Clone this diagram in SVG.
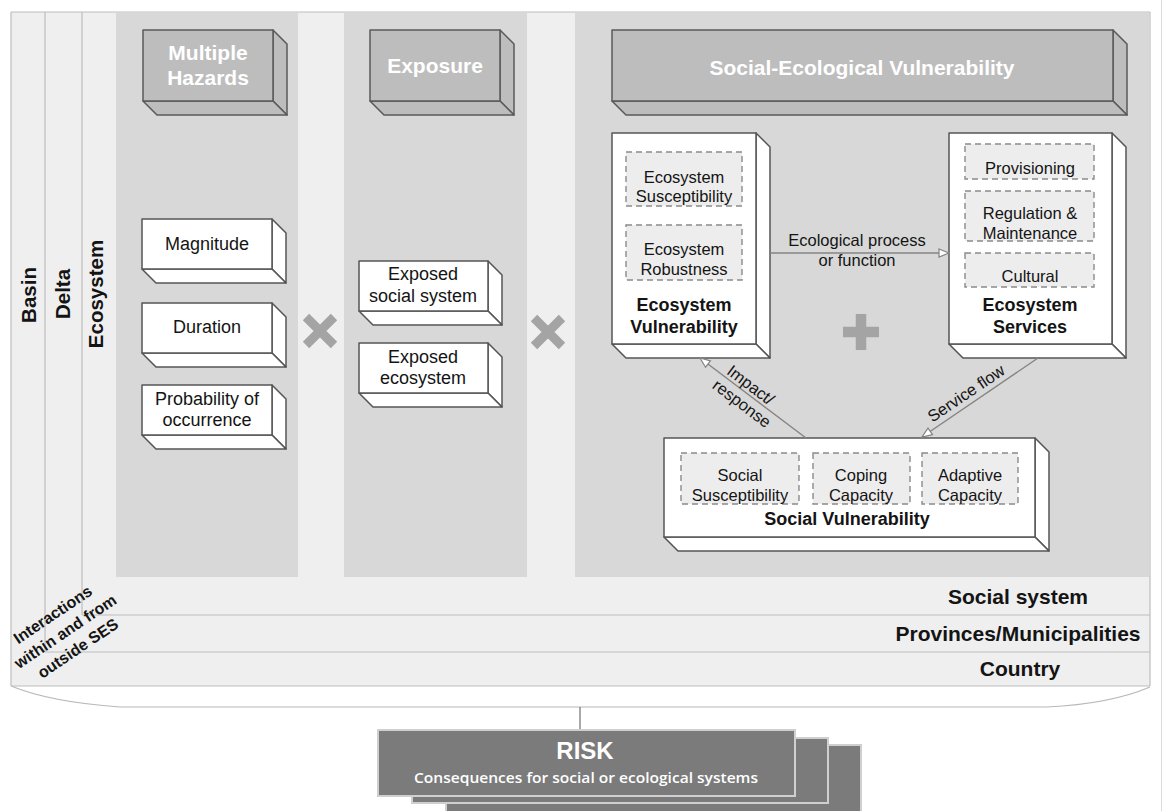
<svg xmlns="http://www.w3.org/2000/svg" width="1163" height="811" viewBox="0 0 1163 811">
  <style>
    .t { font-family: "Liberation Sans", Arial, sans-serif; fill: #141414; }
    .b { font-weight: bold; }
    .reg { font-size: 18px; }
    .small { font-size: 16.5px; }
    .bold18 { font-size: 18px; font-weight: bold; }
    .hdr { font-family: "Liberation Sans", Arial, sans-serif; font-weight: bold; font-size: 21px; fill: #ffffff; }
    .lvl { font-family: "Liberation Sans", Arial, sans-serif; font-weight: bold; font-size: 20.5px; fill: #141414; }
    .scale { font-family: "Liberation Sans", Arial, sans-serif; font-weight: bold; font-size: 21px; fill: #141414; }
    .panel { fill: #d8d8d8; }
    .strip { fill: #efefef; }
    .rule { stroke: #bdbdbd; stroke-width: 1.2; fill: none; }
    .box { fill: #ffffff; stroke: #555555; stroke-width: 1.5; stroke-linejoin: round; }
    .hbox { fill: #bdbdbd; stroke: #5a5a5a; stroke-width: 1.5; stroke-linejoin: round; }
    .dash { fill: #ededed; stroke: #8a8a8a; stroke-width: 1.4; stroke-dasharray: 6 4; }
    .conn { stroke: #848484; stroke-width: 1.4; fill: none; }
    .op { stroke: #a4a4a4; stroke-width: 9; fill: none; }
    .risk { fill: #7b7b7b; stroke: #cfcfcf; stroke-width: 2; }
  </style>
  <defs>
    <marker id="hollow" viewBox="0 0 12 10" refX="11" refY="5" markerWidth="12" markerHeight="10" markerUnits="userSpaceOnUse" orient="auto">
      <path d="M1,1 L11,5 L1,9 Z" fill="#ffffff" stroke="#848484" stroke-width="1.2"/>
    </marker>
  </defs>

  <rect width="1163" height="811" fill="#ffffff"/>

  <!-- nested scale frames: Basin / Delta / Ecosystem -->
  <g id="frame">
    <rect class="strip" x="11" y="12" width="1139" height="674"/>
    <path d="M11,686 Q50,702 120,707 L1047,707 Q1110,704 1150,687" fill="none" stroke="#b8b8b8" stroke-width="1.2"/>
    <line x1="1161.5" y1="0" x2="1161.5" y2="811" stroke="#dcdcdc" stroke-width="1"/>
    <line class="rule" x1="11" y1="12" x2="1150" y2="12"/>
    <line class="rule" x1="11" y1="12" x2="11" y2="686"/>
    <line class="rule" x1="11" y1="686" x2="1150" y2="686"/>
    <line class="rule" x1="1150" y1="12" x2="1150" y2="686"/>
    <line class="rule" x1="45" y1="12" x2="45" y2="652"/>
    <line class="rule" x1="45" y1="652" x2="1150" y2="652"/>
    <line class="rule" x1="82" y1="12" x2="82" y2="615"/>
    <line class="rule" x1="82" y1="615" x2="1150" y2="615"/>
  </g>

  <!-- column panels -->
  <g id="panels">
    <rect class="panel" x="116" y="13" width="182" height="564"/>
    <rect class="panel" x="344" y="13" width="183" height="564"/>
    <rect class="panel" x="575" y="13" width="574.5" height="564"/>
  </g>

  <g id="level-labels">
    <text class="lvl" transform="translate(36,295) rotate(-90)" text-anchor="middle">Basin</text>
    <text class="lvl" transform="translate(70,294) rotate(-90)" text-anchor="middle">Delta</text>
    <text class="lvl" transform="translate(103,294) rotate(-90)" text-anchor="middle">Ecosystem</text>
    <text class="scale" x="1018" y="604" text-anchor="middle">Social system</text>
    <text class="scale" x="1018" y="641" text-anchor="middle">Provinces/Municipalities</text>
    <text class="scale" x="1020" y="676" text-anchor="middle">Country</text>
    <g transform="translate(65,631) rotate(-34)" font-family="Liberation Sans, Arial, sans-serif" font-weight="bold" font-size="16px" fill="#141414" text-anchor="middle">
      <text x="-1" y="-15">Interactions</text>
      <text x="0" y="6">within and from</text>
      <text x="1" y="27">outside SES</text>
    </g>
  </g>

  <!-- header boxes -->
  <g id="hazards-header">
    <path class="hbox" d="M273,30 L287,44 L287,115 L273,101 Z"/>
    <path class="hbox" d="M143,101 L273,101 L287,115 L157,115 Z"/>
    <rect class="hbox" x="143" y="30" width="130" height="71"/>
    <text class="hdr" x="208" y="60" text-anchor="middle">Multiple</text>
    <text class="hdr" x="208" y="85" text-anchor="middle">Hazards</text>
  </g>
  <g id="exposure-header">
    <path class="hbox" d="M500,30 L514,44 L514,115 L500,101 Z"/>
    <path class="hbox" d="M370,101 L500,101 L514,115 L384,115 Z"/>
    <rect class="hbox" x="370" y="30" width="130" height="71"/>
    <text class="hdr" x="435" y="73" text-anchor="middle">Exposure</text>
  </g>
  <g id="sev-header">
    <path class="hbox" d="M1113,30 L1127,44 L1127,115 L1113,101 Z"/>
    <path class="hbox" d="M612,101 L1113,101 L1127,115 L626,115 Z"/>
    <rect class="hbox" x="612" y="30" width="501" height="71"/>
    <text class="hdr" x="862" y="75" text-anchor="middle">Social-Ecological Vulnerability</text>
  </g>

  <!-- hazard characteristics -->
  <g id="magnitude">
    <path class="box" d="M272,219 L286,233 L286,283 L272,269 Z"/>
    <path class="box" d="M142,269 L272,269 L286,283 L156,283 Z"/>
    <rect class="box" x="142" y="219" width="130" height="50"/>
    <text class="t reg" x="207" y="250" text-anchor="middle">Magnitude</text>
  </g>
  <g id="duration">
    <path class="box" d="M272,303 L286,317 L286,367 L272,353 Z"/>
    <path class="box" d="M142,353 L272,353 L286,367 L156,367 Z"/>
    <rect class="box" x="142" y="303" width="130" height="50"/>
    <text class="t reg" x="207" y="333" text-anchor="middle">Duration</text>
  </g>
  <g id="probability">
    <path class="box" d="M272,385 L286,399 L286,449 L272,435 Z"/>
    <path class="box" d="M142,435 L272,435 L286,449 L156,449 Z"/>
    <rect class="box" x="142" y="385" width="130" height="50"/>
    <text class="t reg" x="207" y="405" text-anchor="middle">Probability of</text>
    <text class="t reg" x="207" y="426" text-anchor="middle">occurrence</text>
  </g>

  <!-- exposure elements -->
  <g id="exposed-social">
    <path class="box" d="M488,261 L502,275 L502,325 L488,311 Z"/>
    <path class="box" d="M359,311 L488,311 L502,325 L373,325 Z"/>
    <rect class="box" x="359" y="261" width="129" height="50"/>
    <text class="t reg" x="423" y="280" text-anchor="middle">Exposed</text>
    <text class="t reg" x="423" y="302" text-anchor="middle">social system</text>
  </g>
  <g id="exposed-ecosystem">
    <path class="box" d="M488,343 L502,357 L502,407 L488,393 Z"/>
    <path class="box" d="M359,393 L488,393 L502,407 L373,407 Z"/>
    <rect class="box" x="359" y="343" width="129" height="50"/>
    <text class="t reg" x="423" y="363" text-anchor="middle">Exposed</text>
    <text class="t reg" x="423" y="384" text-anchor="middle">ecosystem</text>
  </g>

  <!-- combining operators -->
  <g id="operators">
    <path class="op" d="M306,317 L334,345 M334,317 L306,345"/>
    <path class="op" d="M534,318 L562,346 M562,318 L534,346"/>
    <path d="M843,332 L879,332 M861,314 L861,350" stroke="#a4a4a4" stroke-width="10.5" fill="none"/>
  </g>

  <!-- ecosystem vulnerability -->
  <g id="ecosystem-vulnerability">
    <path class="box" d="M756,133 L770,147 L770,358 L756,344 Z"/>
    <path class="box" d="M612,344 L756,344 L770,358 L626,358 Z"/>
    <rect class="box" x="612" y="133" width="144" height="211"/>
    <rect class="dash" x="626" y="152" width="116" height="54"/>
    <rect class="dash" x="626" y="225" width="116" height="55"/>
    <text class="t small" x="684" y="183" text-anchor="middle">Ecosystem</text>
    <text class="t small" x="684" y="202" text-anchor="middle">Susceptibility</text>
    <text class="t small" x="684" y="255" text-anchor="middle">Ecosystem</text>
    <text class="t small" x="684" y="275" text-anchor="middle">Robustness</text>
    <text class="t bold18" x="684" y="311" text-anchor="middle">Ecosystem</text>
    <text class="t bold18" x="684" y="333" text-anchor="middle">Vulnerability</text>
  </g>

  <!-- ecosystem services -->
  <g id="ecosystem-services">
    <path class="box" d="M1112,133 L1126,147 L1126,358 L1112,344 Z"/>
    <path class="box" d="M949,344 L1112,344 L1126,358 L963,358 Z"/>
    <rect class="box" x="949" y="133" width="163" height="211"/>
    <rect class="dash" x="965" y="144" width="129" height="35"/>
    <rect class="dash" x="965" y="191" width="129" height="50"/>
    <rect class="dash" x="965" y="253" width="129" height="34"/>
    <text class="t small" x="1030" y="174" text-anchor="middle">Provisioning</text>
    <text class="t small" x="1030" y="219" text-anchor="middle">Regulation &amp;</text>
    <text class="t small" x="1030" y="239" text-anchor="middle">Maintenance</text>
    <text class="t small" x="1030" y="282" text-anchor="middle">Cultural</text>
    <text class="t bold18" x="1030" y="311" text-anchor="middle">Ecosystem</text>
    <text class="t bold18" x="1030" y="333" text-anchor="middle">Services</text>
  </g>

  <!-- social vulnerability -->
  <g id="social-vulnerability">
    <path class="box" d="M1035,438 L1049,452 L1049,551 L1035,537 Z"/>
    <path class="box" d="M664,537 L1035,537 L1049,551 L678,551 Z"/>
    <rect class="box" x="664" y="438" width="371" height="99"/>
    <rect class="dash" x="681" y="453" width="118" height="51"/>
    <rect class="dash" x="813" y="453" width="97" height="51"/>
    <rect class="dash" x="922" y="453" width="96" height="51"/>
    <text class="t small" x="740" y="481" text-anchor="middle">Social</text>
    <text class="t small" x="740" y="501" text-anchor="middle">Susceptibility</text>
    <text class="t small" x="861" y="481" text-anchor="middle">Coping</text>
    <text class="t small" x="861" y="501" text-anchor="middle">Capacity</text>
    <text class="t small" x="970" y="481" text-anchor="middle">Adaptive</text>
    <text class="t small" x="970" y="501" text-anchor="middle">Capacity</text>
    <text class="t bold18" x="847" y="525" text-anchor="middle">Social Vulnerability</text>
  </g>

  <!-- connectors between system components -->
  <g id="connectors">
    <line class="conn" x1="770" y1="253" x2="949" y2="253" marker-end="url(#hollow)"/>
    <text class="t small" x="857" y="246" text-anchor="middle">Ecological process</text>
    <text class="t small" x="857" y="266" text-anchor="middle">or function</text>
    <line class="conn" x1="806" y1="438" x2="700" y2="358" marker-end="url(#hollow)"/>
    <g transform="translate(746.5,394) rotate(37)" text-anchor="middle">
      <text class="t small" x="-2" y="-4">Impact/</text>
      <text class="t small" x="2" y="16">response</text>
    </g>
    <line class="conn" x1="1038" y1="358" x2="922" y2="437" marker-end="url(#hollow)"/>
    <text class="t small" transform="translate(966,393) rotate(-34)" x="0" y="6" text-anchor="middle">Service flow</text>
    <line class="conn" x1="580" y1="707" x2="580" y2="730"/>
  </g>

  <!-- outcome -->
  <g id="risk">
    <rect class="risk" x="446" y="745" width="415" height="75"/>
    <rect class="risk" x="412" y="738" width="416" height="65"/>
    <rect class="risk" x="378" y="730" width="417" height="66"/>
    <text x="585" y="759" text-anchor="middle" font-family="Liberation Sans, Arial, sans-serif" font-weight="bold" font-size="24px" fill="#ffffff">RISK</text>
    <text x="586" y="783" text-anchor="middle" font-family="Open Sans, sans-serif" font-weight="600" font-size="15px" fill="#ffffff" textLength="344" lengthAdjust="spacingAndGlyphs">Consequences for social or ecological systems</text>
  </g>
</svg>
